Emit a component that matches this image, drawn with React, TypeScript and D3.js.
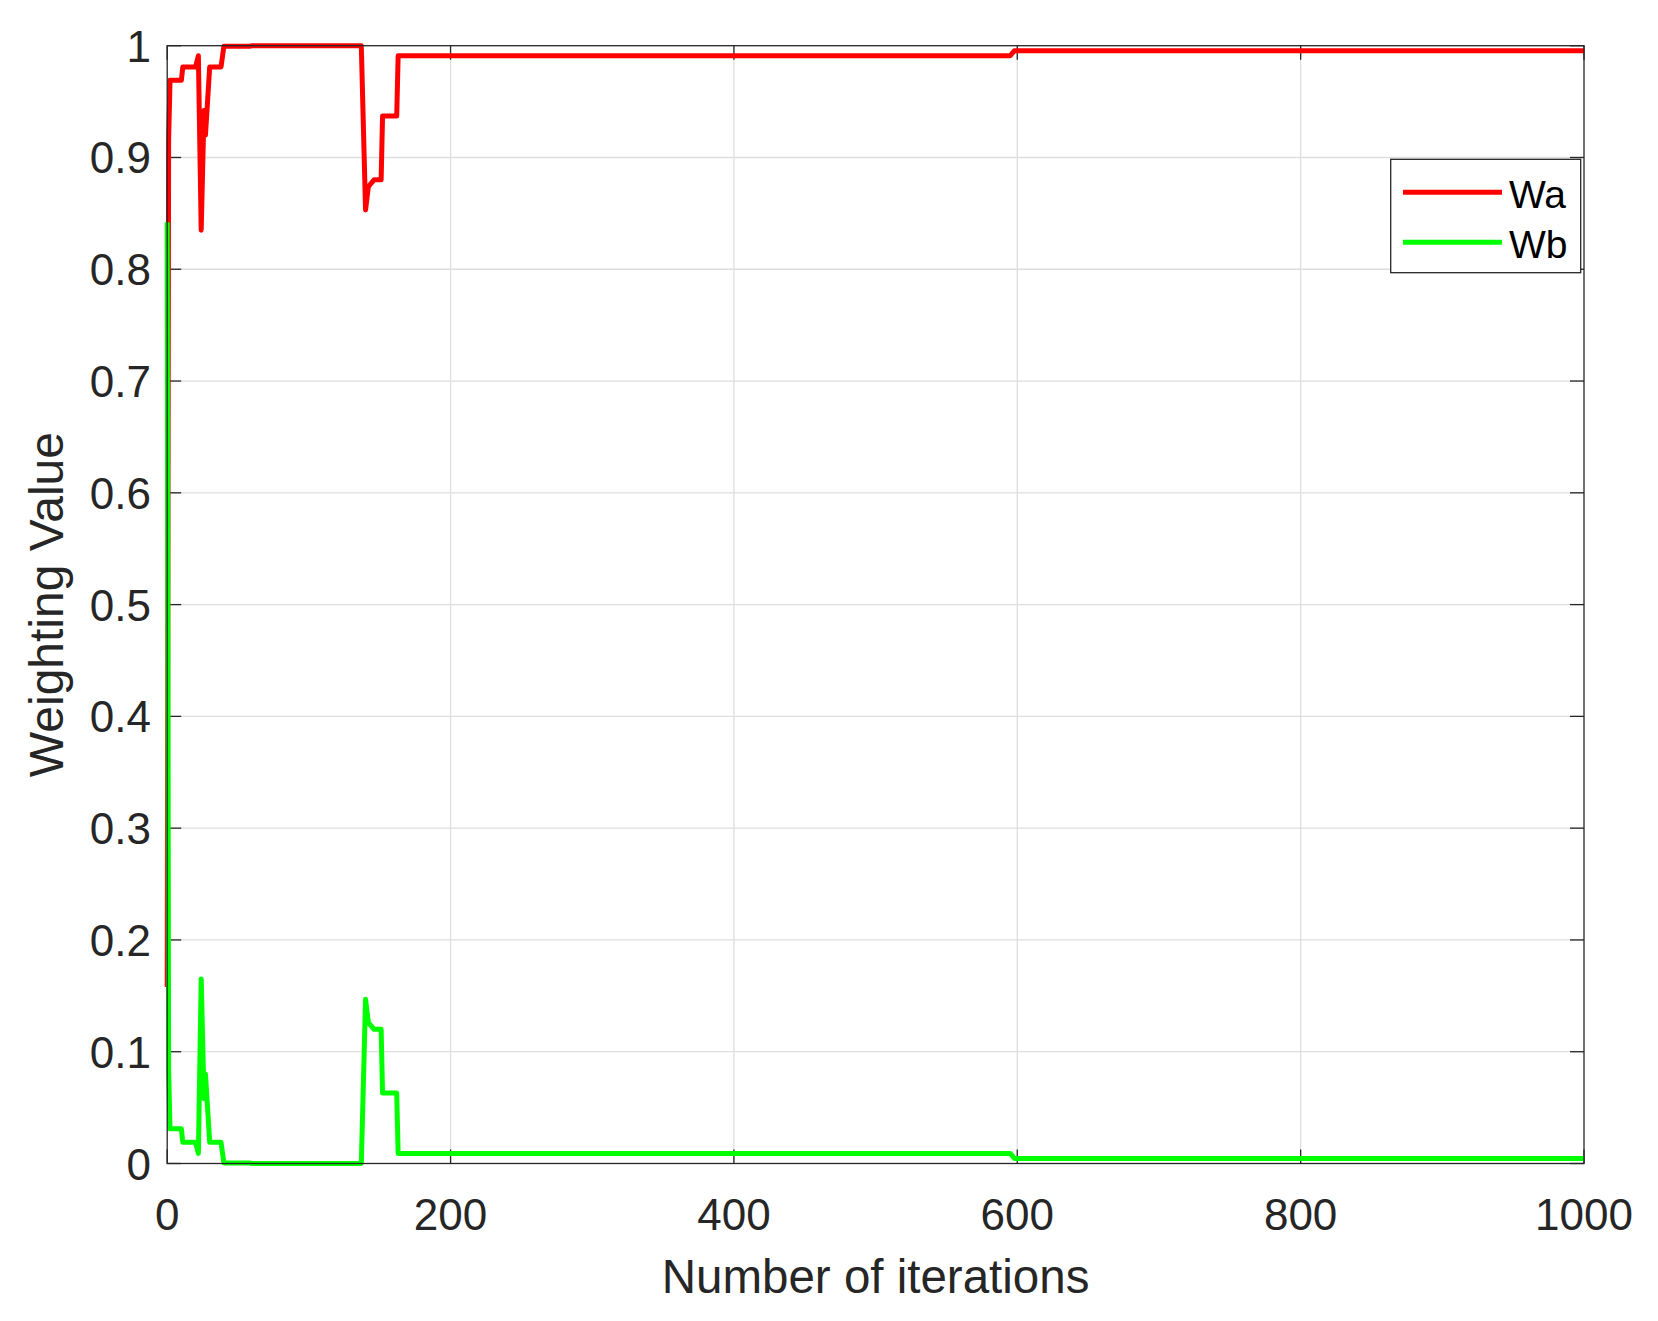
import * as d3 from "d3";
import React, { useEffect, useRef } from "react";

// iteration breakpoints (line is linear between them)
const iterations = [0, 1, 2, 10, 11, 20, 22, 24, 26, 27, 30, 38, 40, 58, 60, 137, 140, 142, 146, 151, 152, 162, 163, 595, 598, 1000];
const waValues = [0.158, 0.916, 0.969, 0.969, 0.981, 0.981, 0.991, 0.835, 0.942, 0.92, 0.981, 0.981, 0.9995, 0.9995, 1.0, 1.0, 0.853, 0.874, 0.88, 0.88, 0.937, 0.937, 0.991, 0.991, 0.9955, 0.9955];
const wbValues = [0.842, 0.084, 0.031, 0.031, 0.019, 0.019, 0.009, 0.165, 0.058, 0.08, 0.019, 0.019, 0.0005, 0.0005, 0, 0, 0.147, 0.126, 0.12, 0.12, 0.063, 0.063, 0.009, 0.009, 0.0045, 0.0045];

const xTicks = [0, 200, 400, 600, 800, 1000];
const yTicks = [0, 0.1, 0.2, 0.3, 0.4, 0.5, 0.6, 0.7, 0.8, 0.9, 1];

const seriesNames = ["Wa", "Wb"];
const seriesColors = ["#ff0000", "#00ff00"];

const App = () => {
  const ref = useRef<SVGSVGElement>(null);

  useEffect(() => {
    const W = 1658;
    const H = 1321;
    const left = 167.2, right = 1584, top = 45.7, bottom = 1163.5;
    const axisColor = "#262626";
    const font = "'Liberation Sans', Arial, Helvetica, sans-serif";

    const svg = d3.select(ref.current);
    svg.selectAll("*").remove();
    svg.attr("width", W).attr("height", H);

    const x = d3.scaleLinear().domain([0, 1000]).range([left, right]);
    const y = d3.scaleLinear().domain([0, 1]).range([bottom, top]);

    svg.append("rect").attr("width", W).attr("height", H).attr("fill", "#fff");

    // grid
    const grid = svg.append("g").attr("stroke", "#dedede").attr("stroke-width", 1.3);
    xTicks.slice(1, -1).forEach((t) => {
      grid.append("line").attr("x1", x(t)).attr("x2", x(t)).attr("y1", top).attr("y2", bottom);
    });
    yTicks.slice(1, -1).forEach((t) => {
      grid.append("line").attr("x1", left).attr("x2", right).attr("y1", y(t)).attr("y2", y(t));
    });

    // inward ticks on all four sides
    const tickLen = 14;
    const ticks = svg.append("g").attr("stroke", axisColor).attr("stroke-width", 1.3);
    xTicks.forEach((t) => {
      ticks.append("line").attr("x1", x(t)).attr("x2", x(t)).attr("y1", bottom).attr("y2", bottom - tickLen);
      ticks.append("line").attr("x1", x(t)).attr("x2", x(t)).attr("y1", top).attr("y2", top + tickLen);
    });
    yTicks.forEach((t) => {
      ticks.append("line").attr("x1", left).attr("x2", left + tickLen).attr("y1", y(t)).attr("y2", y(t));
      ticks.append("line").attr("x1", right).attr("x2", right - tickLen).attr("y1", y(t)).attr("y2", y(t));
    });

    // tick labels
    const labels = svg.append("g").attr("fill", axisColor).attr("font-family", font).attr("font-size", 44);
    xTicks.forEach((t) => {
      labels.append("text").attr("x", x(t)).attr("y", 1230).attr("text-anchor", "middle").text(String(t));
    });
    yTicks.forEach((t) => {
      labels.append("text").attr("x", 151).attr("y", y(t) + 16).attr("text-anchor", "end").text(d3.format("~g")(t));
    });

    // axis titles
    svg.append("text")
      .attr("x", (left + right) / 2).attr("y", 1293)
      .attr("text-anchor", "middle").attr("font-family", font).attr("font-size", 47.5).attr("fill", axisColor)
      .text("Number of iterations");
    svg.append("text")
      .attr("transform", `translate(63,${(top + bottom) / 2}) rotate(-90)`)
      .attr("text-anchor", "middle").attr("font-family", font).attr("font-size", 48).attr("fill", axisColor)
      .text("Weighting Value");

    // lines
    const line = d3.line<number>()
      .x((_, i) => x(iterations[i]))
      .y((d) => y(d));

    [waValues, wbValues].forEach((vals, k) => {
      svg.append("path")
        .datum(vals)
        .attr("fill", "none")
        .attr("stroke", seriesColors[k])
        .attr("stroke-width", 5)
        .attr("stroke-linejoin", "round")
        .attr("d", line);
    });

    // box
    svg.append("rect")
      .attr("x", left).attr("y", top).attr("width", right - left).attr("height", bottom - top)
      .attr("fill", "none").attr("stroke", axisColor).attr("stroke-width", 1.3);

    // legend
    const lg = svg.append("g");
    lg.append("rect")
      .attr("x", 1390.7).attr("y", 159.3).attr("width", 190).attr("height", 113.4)
      .attr("fill", "#fff").attr("stroke", axisColor).attr("stroke-width", 1.3);
    seriesNames.forEach((name, k) => {
      const ly = 192.3 + k * 50;
      lg.append("line")
        .attr("x1", 1403).attr("x2", 1502).attr("y1", ly).attr("y2", ly)
        .attr("stroke", seriesColors[k]).attr("stroke-width", 5);
      lg.append("text")
        .attr("x", 1509).attr("y", ly + 16)
        .attr("font-family", font).attr("font-size", 39).attr("fill", "#000")
        .text(name);
    });
  }, []);

  return (
    <div>
      <svg ref={ref} style={{ position: "absolute", left: 0, top: 0, display: "block" }} />
    </div>
  );
};

export default App;
